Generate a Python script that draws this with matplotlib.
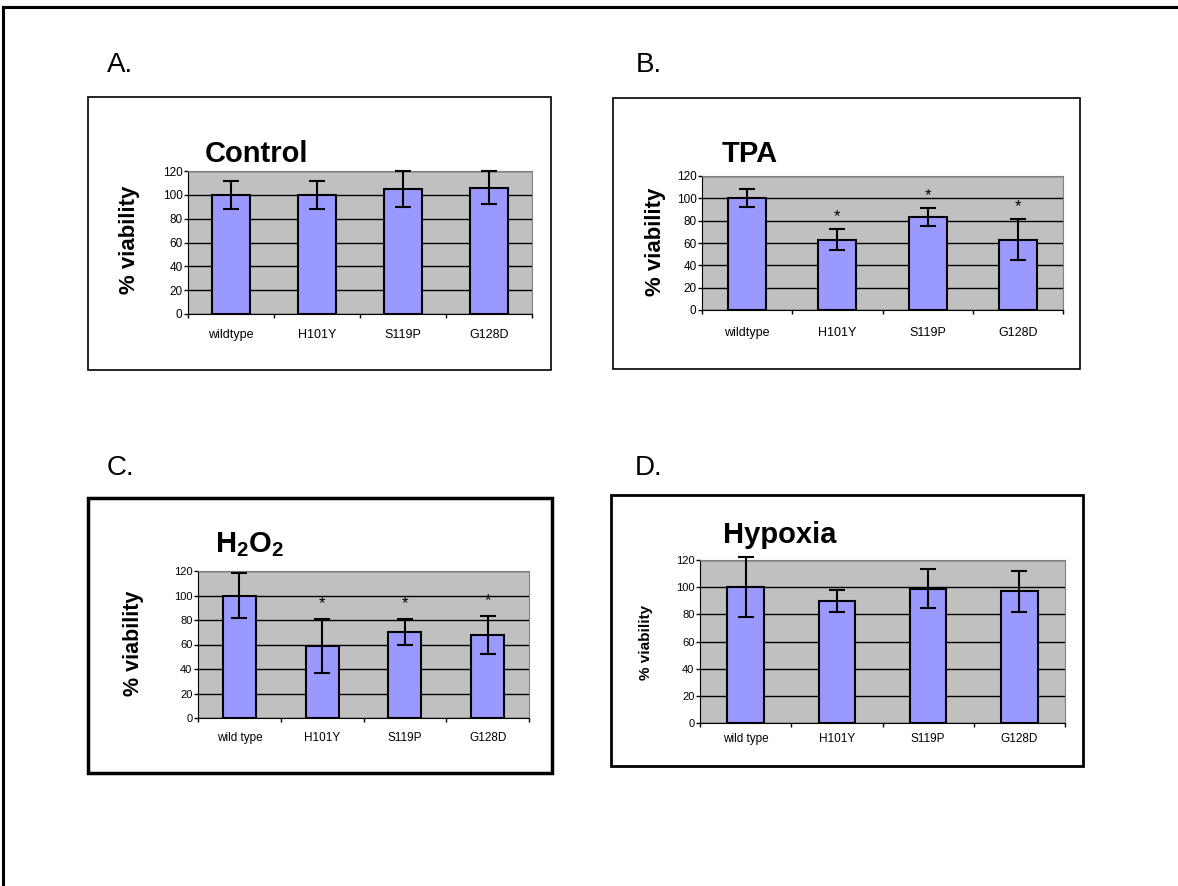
import numpy as np
import matplotlib
matplotlib.use('Agg')
import matplotlib.pyplot as plt
from matplotlib.patches import Rectangle
from matplotlib.lines import Line2D

plt.rcParams['font.family'] = ['Liberation Sans', 'DejaVu Sans']
plt.rcParams['mathtext.fontset'] = 'custom'
plt.rcParams['mathtext.rm'] = 'Liberation Sans'
plt.rcParams['mathtext.bf'] = 'Liberation Sans:bold'

# dados
categorias_ab = ['wildtype', 'H101Y', 'S119P', 'G128D']
categorias_cd = ['wild type', 'H101Y', 'S119P', 'G128D']

controle_media = [100, 100, 105, 106]
controle_erro = [11.5, 11.5, 15, 14]

tpa_media = [100, 63, 83, 63]
tpa_erro = [8, 9.5, 8, 18.5]
tpa_sig = [False, True, True, True]

h2o2_media = [100, 59, 70, 68]
h2o2_erro = [18, 22, 10.5, 15.5]
h2o2_sig = [False, True, True, True]

hipoxia_media = [100, 90, 99, 97]
hipoxia_erro = [22, 8, 14.5, 15]

W, H = 1178, 886
fig = plt.figure(figsize=(W / 100, H / 100), dpi=100)


def px(x0, y0, x1, y1):
    """Converte caixa em pixels (origem no topo) para coordenadas da figura."""
    return [x0 / W, 1 - y1 / H, (x1 - x0) / W, (y1 - y0) / H]


def caixa(x0, y0, x1, y1, lw):
    l, b, w, h = px(x0, y0, x1, y1)
    fig.patches.append(Rectangle((l, b), w, h, transform=fig.transFigure,
                                 fill=False, edgecolor='black', linewidth=lw))


def painel(pos, cats, media, erro, sig, titulo, tpos, ylab_pos, ylab_size,
           xtick_size, ytick_size, largura, xpad, star_off):
    ax = fig.add_axes(px(*pos))
    x = np.arange(len(cats))
    ax.set_facecolor('#C0C0C0')
    ax.set_axisbelow(True)
    ax.yaxis.grid(True, color='black', linewidth=1)
    ax.bar(x, media, width=largura, color='#9999FF', edgecolor='black',
           linewidth=1.5, zorder=2)
    ax.errorbar(x, media, yerr=erro, fmt='none', ecolor='black',
                elinewidth=1.5, capsize=6, capthick=1.5, zorder=3, clip_on=False)
    if sig is not None:
        for i, s in enumerate(sig):
            if s:
                ax.annotate('*', xy=(i, media[i] + erro[i]), xytext=(0, star_off),
                            textcoords='offset points', ha='center', va='center',
                            fontsize=12)
    ax.set_xlim(-0.5, len(cats) - 0.5)
    ax.set_ylim(0, 120)
    ax.set_yticks(range(0, 121, 20))
    ax.set_xticks(x)
    ax.set_xticklabels(cats, fontsize=xtick_size)
    ax.set_xticks(np.arange(-0.5, len(cats)), minor=True)
    ax.tick_params(axis='x', which='major', length=0, pad=xpad)
    ax.tick_params(axis='x', which='minor', length=3, width=1, direction='out')
    ax.tick_params(axis='y', length=3, width=1, pad=1, labelsize=ytick_size)
    for s in ['top', 'right']:
        ax.spines[s].set_color('#808080')
    ax.spines['left'].set_color('black')
    ax.spines['bottom'].set_color('black')
    fig.text(tpos[0] / W, 1 - tpos[1] / H, titulo, fontsize=21,
             fontweight='bold', ha='left', va='baseline')
    fig.text(ylab_pos[0] / W, 1 - ylab_pos[1] / H, '% viability',
             fontsize=ylab_size, fontweight='bold', rotation=90,
             ha='center', va='center')
    return ax


# borda externa
fig.add_artist(Line2D([3 / W, 1], [1 - 7 / H, 1 - 7 / H], color='black', linewidth=2.2))
fig.add_artist(Line2D([3 / W, 3 / W], [1 - 7 / H, 0], color='black', linewidth=2.2))

# rotulos dos paineis
for letra, (lx, ly) in zip(['A.', 'B.', 'C.', 'D.'],
                           [(107, 72), (636, 72), (107, 475), (635, 475)]):
    fig.text(lx / W, 1 - ly / H, letra, fontsize=20, ha='left', va='baseline')

caixa(88, 97, 551, 370, 1.2)
caixa(613, 98, 1080, 369, 1.2)
caixa(88, 498, 552, 773, 2.5)
caixa(611, 495, 1083, 766, 2.0)

painel((188, 171, 532, 314), categorias_ab, controle_media, controle_erro, None,
       'Control', (205, 162), (130, 240), 16, 9, 8.5, 0.44, 11, 9)
painel((702, 176, 1063, 310), categorias_ab, tpa_media, tpa_erro, tpa_sig,
       'TPA', (722, 162), (655, 242), 16, 9, 8.5, 0.42, 12, 9)
painel((198, 571, 529, 718), categorias_cd, h2o2_media, h2o2_erro, h2o2_sig,
       r'$\mathbf{H_2O_2}$', (215, 552), (133, 643), 15.5, 8.5, 8, 0.40, 10, 11)
painel((700, 560, 1065, 723), categorias_cd, hipoxia_media, hipoxia_erro, None,
       'Hypoxia', (723, 543), (646, 642), 11, 8.5, 8, 0.40, 7, 9)

fig.savefig('out.png', dpi=100)
